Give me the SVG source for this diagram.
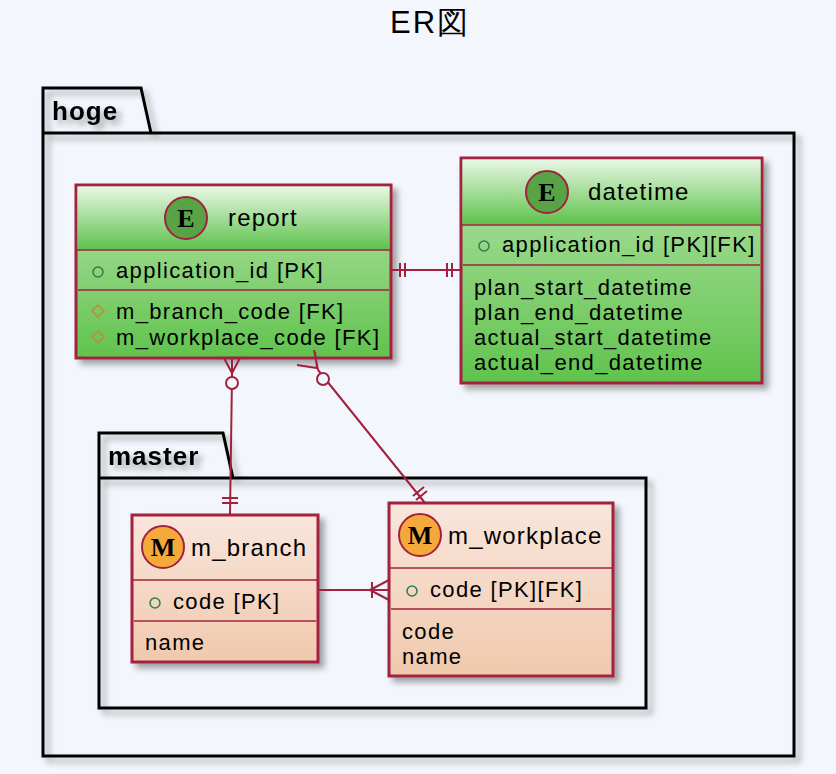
<svg xmlns="http://www.w3.org/2000/svg" width="836" height="774" viewBox="0 0 836 774">
<defs>
<linearGradient id="gg" x1="0" y1="0" x2="0" y2="1"><stop offset="0" stop-color="#e8f7e4"/><stop offset="1" stop-color="#5ec24c"/></linearGradient>
<linearGradient id="gb" x1="0" y1="0" x2="0" y2="1"><stop offset="0" stop-color="#b3e2a6"/><stop offset="1" stop-color="#60c34d"/></linearGradient>
<linearGradient id="og" x1="0" y1="0" x2="0" y2="1"><stop offset="0" stop-color="#f9e6dc"/><stop offset="1" stop-color="#f0c9ad"/></linearGradient>
<filter id="sh" x="-10%" y="-10%" width="130%" height="130%"><feGaussianBlur in="SourceAlpha" stdDeviation="3"/><feOffset dx="5" dy="5"/><feComponentTransfer><feFuncA type="linear" slope="0.35"/></feComponentTransfer><feMerge><feMergeNode/><feMergeNode in="SourceGraphic"/></feMerge></filter>
</defs>
<style>
text{font-family:"Liberation Sans",Arial,sans-serif;fill:#000}
.t{font-size:24px;letter-spacing:1.2px}.a{font-size:22px;letter-spacing:1.35px}
.box{stroke:#a3213f;stroke-width:3}
.sep{stroke:#a3213f;stroke-width:1.5}
.pkg{fill:none;stroke:#000;stroke-width:3}
.pk{font-weight:bold;font-size:26px;letter-spacing:1px}
.c{stroke:#a3213f;stroke-width:2;fill:none}
.ic{font-family:"Liberation Serif","Times New Roman",serif;font-weight:bold;font-size:26px}
</style>
<rect width="836" height="774" fill="#f3f7fd"/>
<text x="430" y="33" text-anchor="middle" font-size="31" letter-spacing="2">ER図</text>
<g id="hoge" filter="url(#sh)">
<path class="pkg" d="M43,133 V88 H141 L151,133 H794 V756 H43 Z M43,133 H151"/>
<text class="pk" x="52" y="120">hoge</text>
</g>
<g id="master" filter="url(#sh)">
<path class="pkg" d="M99,478 V433 H223 L233,478 H646 V708 H99 Z M99,478 H233"/>
<text class="pk" x="108" y="465">master</text>
</g>
<g id="report">
<rect class="box" x="76" y="185" width="315" height="173" fill="url(#gb)" filter="url(#sh)"/>
<rect x="77.5" y="186.5" width="312" height="63" fill="url(#gg)"/>
<line class="sep" x1="76" y1="250" x2="391" y2="250" stroke-width="3"/>
<line class="sep" x1="78" y1="290" x2="389" y2="290"/>
<circle cx="186" cy="218" r="21" fill="#57a346" stroke="#a3213f" stroke-width="2"/>
<text class="ic" x="186" y="227" text-anchor="middle">E</text>
<text class="t" x="228" y="226">report</text>
<circle cx="98" cy="272" r="5" fill="none" stroke="#2e7d4f" stroke-width="1.5"/>
<text class="a" x="116" y="278">application_id [PK]</text>
<path d="M98,305 l6,6 -6,6 -6,-6z M98,331 l6,6 -6,6 -6,-6z" fill="none" stroke="#c08a3a" stroke-width="1.5"/>
<text class="a" x="116" y="319">m_branch_code [FK]</text>
<text class="a" x="116" y="345">m_workplace_code [FK]</text>
</g>
<g id="datetime">
<rect class="box" x="461" y="158" width="301" height="225" fill="url(#gb)" filter="url(#sh)"/>
<rect x="462.5" y="159.5" width="298" height="65" fill="url(#gg)"/>
<line class="sep" x1="461" y1="225" x2="762" y2="225" stroke-width="3"/>
<line class="sep" x1="463" y1="265" x2="760" y2="265"/>
<circle cx="547" cy="192" r="21" fill="#57a346" stroke="#a3213f" stroke-width="2"/>
<text class="ic" x="547" y="201" text-anchor="middle">E</text>
<text class="t" x="588" y="200">datetime</text>
<circle cx="484" cy="246" r="5" fill="none" stroke="#2e7d4f" stroke-width="1.5"/>
<text class="a" x="502" y="252">application_id [PK][FK]</text>
<text class="a" x="474" y="295">plan_start_datetime</text>
<text class="a" x="474" y="320">plan_end_datetime</text>
<text class="a" x="474" y="345">actual_start_datetime</text>
<text class="a" x="474" y="370">actual_end_datetime</text>
</g>
<g id="m_branch">
<rect class="box" x="132" y="515" width="186" height="147" fill="url(#og)" filter="url(#sh)"/>
<line class="sep" x1="132" y1="580" x2="318" y2="580" stroke-width="3"/>
<line class="sep" x1="134" y1="621" x2="316" y2="621"/>
<circle cx="163" cy="547" r="21" fill="#f4a93b" stroke="#a3213f" stroke-width="2"/>
<text class="ic" x="163" y="556" text-anchor="middle">M</text>
<text class="t" x="191" y="556">m_branch</text>
<circle cx="155" cy="603" r="5" fill="none" stroke="#2e7d4f" stroke-width="1.5"/>
<text class="a" x="173" y="609">code [PK]</text>
<text class="a" x="145" y="650">name</text>
</g>
<g id="m_workplace">
<rect class="box" x="389" y="503" width="224" height="173" fill="url(#og)" filter="url(#sh)"/>
<line class="sep" x1="389" y1="568" x2="613" y2="568" stroke-width="3"/>
<line class="sep" x1="391" y1="609" x2="611" y2="609"/>
<circle cx="420" cy="535" r="21" fill="#f4a93b" stroke="#a3213f" stroke-width="2"/>
<text class="ic" x="420" y="544" text-anchor="middle">M</text>
<text class="t" x="448" y="544">m_workplace</text>
<circle cx="412" cy="591" r="5" fill="none" stroke="#2e7d4f" stroke-width="1.5"/>
<text class="a" x="430" y="597">code [PK][FK]</text>
<text class="a" x="402" y="639">code</text>
<text class="a" x="402" y="664">name</text>
</g>
<g id="connectors">
<path class="c" d="M391,270 H461 M400,263 v14 M405,263 v14 M447,263 v14 M452,263 v14"/>
<path class="c" d="M232,358 L232,377 M232,377 L230,515 M224,358 L232,373 L240,358 M222,498 h16 M222,503 h16"/>
<circle cx="232" cy="383" r="6" fill="#f3f7fd" stroke="#a3213f" stroke-width="2"/>
<path class="c" d="M314,350 L318,370 M318,370 L425,503 M297,365 L317,368 L315,352 M413,496 l11,-9 M416,500 l11,-9"/>
<circle cx="323" cy="379" r="6" fill="#f3f7fd" stroke="#a3213f" stroke-width="2"/>
<path class="c" d="M318,590 H389 M372,582 v16 M370,590 L389,580 M370,590 L389,600"/>
</g>
</svg>
